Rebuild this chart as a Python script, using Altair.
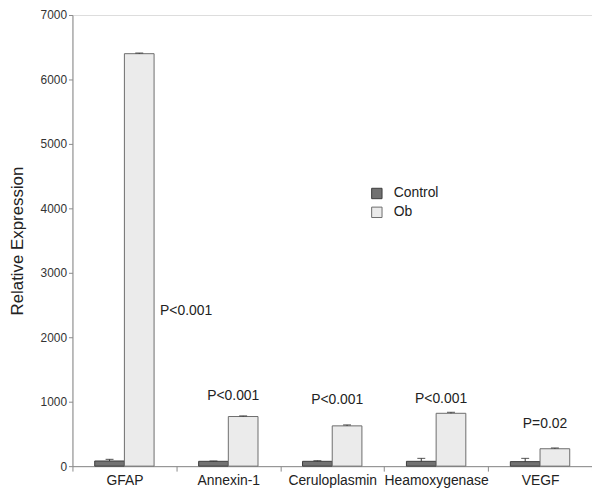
import altair as alt
import pandas as pd

genes = ["GFAP", "Annexin-1", "Ceruloplasmin", "Heamoxygenase", "VEGF"]
groups = ["Control", "Ob"]
control_vals = [80, 75, 75, 75, 70]
control_err = [25, 5, 10, 45, 50]
ob_vals = [6400, 770, 625, 820, 270]
ob_err = [10, 10, 15, 15, 12]
p_labels = ["P<0.001", "P<0.001", "P<0.001", "P<0.001", "P=0.02"]
p_label_y = [2400, 1095, 1020, 1035, 660]
y_ticks = [0, 1000, 2000, 3000, 4000, 5000, 6000, 7000]

rows = []
for i, g in enumerate(genes):
    rows.append(dict(gene=g, group="Control", value=control_vals[i],
                     err_top=control_vals[i] + control_err[i]))
    rows.append(dict(gene=g, group="Ob", value=ob_vals[i],
                     err_top=ob_vals[i] + ob_err[i]))
df = pd.DataFrame(rows)
lab = pd.DataFrame(dict(gene=genes, label=p_labels, y=p_label_y))

FONT = "Liberation Sans"
AX = "#8a8a8a"

x_axis = alt.Axis(title=None, labelAngle=0, labelFontSize=14, labelColor="#222",
                  labelFont=FONT, labelPadding=3, tickBand="extent", tickSize=5,
                  tickColor=AX, domainColor=AX, labelFlush=False, grid=False)
x_scale = alt.Scale(paddingInner=0, paddingOuter=0)
y_scale = alt.Scale(domain=[0, 7000], nice=False)
y_axis = alt.Axis(values=y_ticks, format="d", title="Relative Expression", titleFont=FONT,
                  titleFontSize=17, titleFontWeight="normal", titleColor="#222",
                  titlePadding=14, labelFont=FONT, labelFontSize=12, labelColor="#333",
                  tickSize=4, tickColor=AX, domainColor=AX, labelPadding=2, grid=False)

xo = alt.XOffset("group:N", sort=groups, scale=alt.Scale(paddingOuter=0.75, paddingInner=0))
xe = alt.X("gene:N", sort=genes, scale=x_scale, axis=x_axis)

leg = alt.Legend(title=None, orient="none", legendX=300, legendY=173, labelFontSize=14,
                 labelFont=FONT, labelColor="#222", symbolType="square", symbolSize=110,
                 symbolStrokeWidth=1, rowPadding=3, labelOffset=10, padding=0)

base = alt.Chart(df)
bars = base.mark_bar(strokeWidth=1).encode(
    x=xe, xOffset=xo,
    y=alt.Y("value:Q", scale=y_scale, axis=y_axis),
    fill=alt.Fill("group:N", sort=groups,
                  scale=alt.Scale(domain=groups, range=["#727272", "#ebebeb"]), legend=leg),
    stroke=alt.Stroke("group:N", sort=groups,
                      scale=alt.Scale(domain=groups, range=["#3c3c3c", "#6c6c6c"]), legend=leg),
)
err_rule = base.mark_rule(color="#333", strokeWidth=1).encode(
    x=xe, xOffset=xo,
    y=alt.Y("value:Q", scale=y_scale, axis=y_axis), y2="err_top:Q")
err_cap = base.mark_tick(color="#333", size=8, thickness=1.2).encode(
    x=xe, xOffset=xo, y=alt.Y("err_top:Q", scale=y_scale, axis=y_axis))

lab_first = alt.Chart(lab.iloc[:1]).mark_text(
    align="left", baseline="middle", dx=36, fontSize=14, font=FONT, color="#222"
).encode(x=xe, y=alt.Y("y:Q", scale=y_scale, axis=y_axis), text="label:N")
lab_rest = alt.Chart(lab.iloc[1:]).mark_text(
    align="center", baseline="middle", dx=5, fontSize=14, font=FONT, color="#222"
).encode(x=xe, y=alt.Y("y:Q", scale=y_scale, axis=y_axis), text="label:N")

chart = alt.layer(bars, err_rule, err_cap, lab_first, lab_rest).properties(
    width=524, height=455,
    padding={"left": 65, "top": 5, "right": 0, "bottom": 24},
    autosize=alt.AutoSizeParams(type="none"),
).configure_view(stroke=None).configure(background="white")

chart.save("out.html", embed_options={"renderer": "svg", "actions": False})
